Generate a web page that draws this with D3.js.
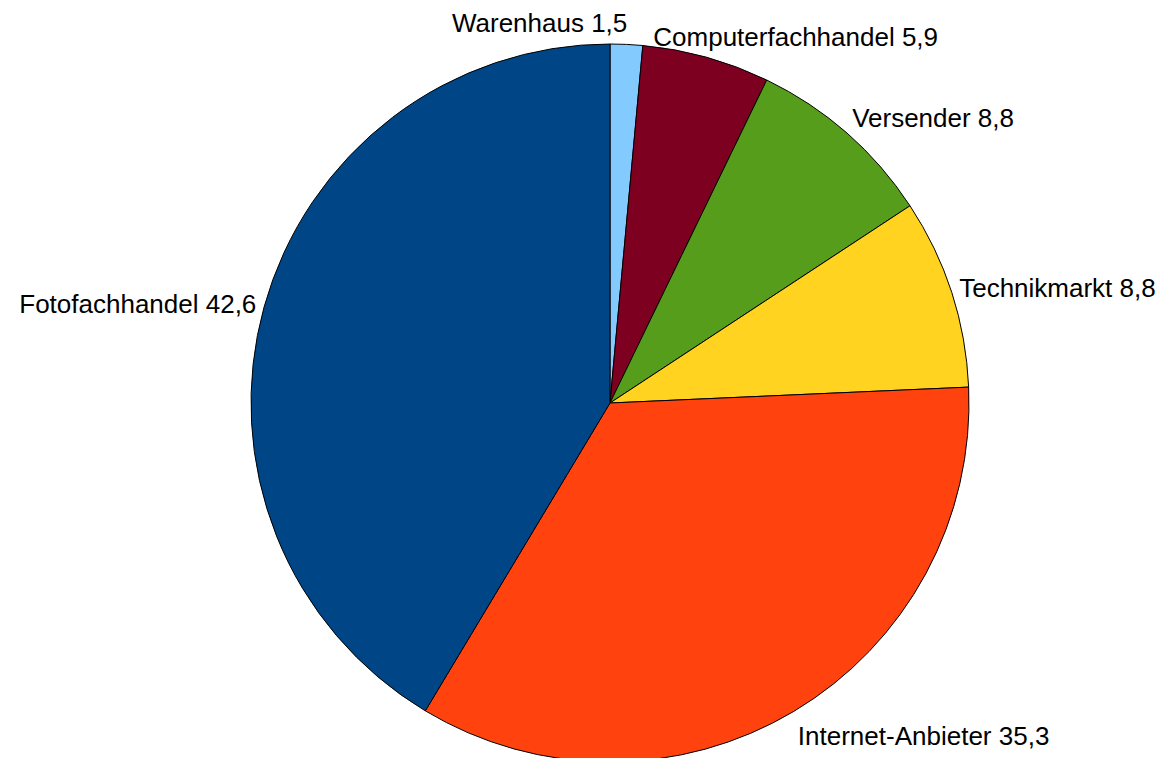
<!DOCTYPE html>
<html>
<head>
<meta charset="utf-8">
<script src="https://cdn.jsdelivr.net/npm/d3@7"></script>
<style>
  body { margin: 0; background: #fff; }
  text { font-family: "Liberation Sans", Arial, sans-serif; }
</style>
</head>
<body>
<div id="container"></div>
<script>
/* CONSTANTS AND GLOBALS */
const width = 1172;
const height = 758;
const cx = 610, cy = 403;
const radius = 359;

/* DATA */
const categories = ["Warenhaus", "Computerfachhandel", "Versender", "Technikmarkt", "Internet-Anbieter", "Fotofachhandel"];
const values = [1.5, 5.9, 8.8, 8.8, 35.3, 42.6];
const valueLabels = ["1,5", "5,9", "8,8", "8,8", "35,3", "42,6"];
const colors = ["#83caff", "#7e0021", "#579d1c", "#ffd320", "#ff420e", "#004586"];

const data = categories.map((c, i) => ({ name: c, value: values[i], label: valueLabels[i], color: colors[i] }));

const svg = d3.select("#container")
  .append("svg")
  .attr("width", width)
  .attr("height", height);

const pie = d3.pie().sort(null).value(d => d.value);
const arcs = pie(data);

const arc = d3.arc().innerRadius(0).outerRadius(radius);

const g = svg.append("g").attr("transform", `translate(${cx},${cy})`);

// slices
g.selectAll("path")
  .data(arcs)
  .join("path")
  .attr("d", arc)
  .attr("fill", d => d.data.color)
  .attr("stroke", "#000")
  .attr("stroke-width", 1)
  .attr("stroke-linejoin", "round");

// labels - outside, anchored to the mid angle
const labelR = radius + 8;
const fontSize = 26;
const boxH = 33;

const labels = g.selectAll("text")
  .data(arcs)
  .join("text")
  .style("font-size", fontSize + "px")
  .attr("fill", "#000")
  .text(d => `${d.data.name} ${d.data.label}`);

const boxes = [];
labels.each(function (d) {
  const a = (d.startAngle + d.endAngle) / 2;
  const px = Math.sin(a) * labelR;
  const py = -Math.cos(a) * labelR;
  const w = this.getComputedTextLength();
  const deg = a * 180 / Math.PI;
  let left;
  // near top / bottom: centred, otherwise aligned away from the pie
  if (deg < 30 || deg > 330 || Math.abs(deg - 180) < 30) left = px - w / 2;
  else if (deg < 180) left = px;
  else left = px - w;
  const base = py + (1 - Math.cos(a)) / 2 * boxH - 4;
  boxes.push({ node: this, left, w, base, top: base - 21, bottom: base + 5 });
});

// push overlapping labels apart horizontally
const gap = 26;
for (let i = 0; i < boxes.length; i++) {
  for (let j = i + 1; j < boxes.length; j++) {
    const A = boxes[i], B = boxes[j];
    if (A.bottom < B.top || B.bottom < A.top) continue;
    const [L, R] = A.left <= B.left ? [A, B] : [B, A];
    const overlap = L.left + L.w + gap - R.left;
    if (overlap > 0) {
      L.left -= overlap / 2;
      R.left += overlap / 2;
    }
  }
}

boxes.forEach(b => {
  d3.select(b.node).attr("x", b.left).attr("y", b.base);
});
</script>
</body>
</html>
